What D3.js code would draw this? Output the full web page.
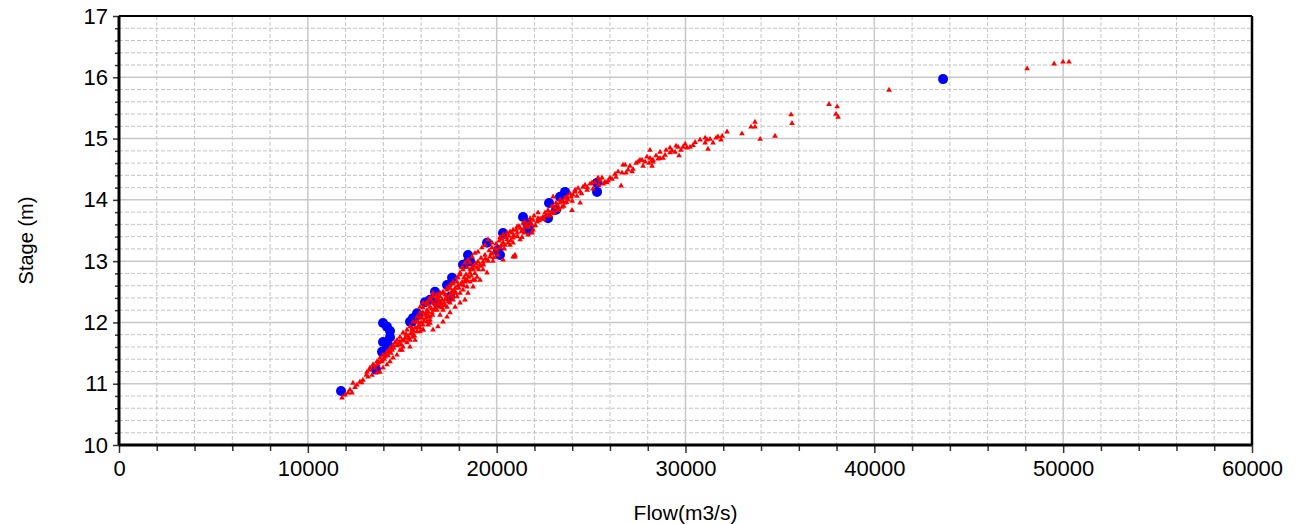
<!DOCTYPE html>
<html>
<head>
<meta charset="utf-8">
<script src="https://cdn.jsdelivr.net/npm/d3@7"></script>
<style>
  html, body { margin: 0; padding: 0; background: #ffffff; }
  svg { display: block; font-family: Arial, "Liberation Sans", sans-serif; }
</style>
</head>
<body>
<div id="chart"></div>
<script>
// Axis ticks
const flowMajorTicks = [0, 10000, 20000, 30000, 40000, 50000, 60000];
const stageMajorTicks = [10, 11, 12, 13, 14, 15, 16, 17];

// Gauged measurements (blue dots): [flow m3/s, stage m]
const gaugedPoints = [
    [11757, 10.88], [13981, 11.99], [14193, 11.93], [14352, 11.86], [14352, 11.76],
    [13981, 11.68], [14246, 11.63], [13928, 11.52], [13611, 11.23], [15517, 12.01],
    [15782, 12.15], [16206, 12.33], [16471, 12.37], [16841, 12.32], [17371, 12.61],
    [17530, 12.42], [17636, 12.73], [18483, 13.10], [18589, 13.00], [19489, 13.30],
    [20072, 13.18], [20178, 13.10], [20337, 13.46], [21396, 13.72], [21608, 13.62],
    [21714, 13.51], [22720, 13.70], [22773, 13.95], [23144, 13.84], [23355, 14.05],
    [23620, 14.13], [25315, 14.28], [25315, 14.13], [43639, 15.97], [15411, 12.01],
    [15570, 12.07], [15835, 12.12], [16735, 12.50], [18218, 12.94], [18483, 12.99]
];

// Simulated stage-flow pairs (red triangles): [flow m3/s, stage m]
const simulatedPoints = [
    [49520, 16.22], [49990, 16.25], [50310, 16.25], [48090, 16.14], [40780, 15.79],
    [37600, 15.56], [38030, 15.52], [37970, 15.40], [38080, 15.35], [35590, 15.39],
    [35640, 15.25], [33680, 15.27], [33470, 15.19], [33680, 15.19], [32200, 15.11],
    [32990, 15.08], [34740, 15.04], [33950, 14.99], [31940, 15.04], [31720, 15.03],
    [31620, 15.01], [31880, 14.98], [31040, 15.01], [31140, 14.98], [31040, 14.93],
    [31190, 14.83], [31460, 14.93], [30400, 14.89], [30240, 14.86], [30080, 14.85],
    [29870, 14.86], [29610, 14.86], [29660, 14.72], [29760, 14.81], [29290, 14.80],
    [29180, 14.77], [29450, 14.78], [28920, 14.73], [28650, 14.68], [28280, 14.65],
    [28120, 14.81], [28120, 14.68], [28230, 14.65], [28070, 14.60], [28280, 14.62],
    [27860, 14.62], [28230, 14.55], [27750, 14.55], [27590, 14.65], [27380, 14.60],
    [27220, 14.50], [27170, 14.46], [26850, 14.44], [26640, 14.44], [26690, 14.57],
    [26800, 14.57], [26320, 14.37], [26110, 14.34], [25900, 14.31], [25740, 14.29],
    [25580, 14.36], [25470, 14.32], [26590, 14.23], [28550, 14.67], [28810, 14.68],
    [25840, 14.28], [25050, 14.28], [24790, 14.16], [24570, 14.21], [24420, 14.13],
    [24150, 14.13], [24040, 14.08], [23940, 14.05], [23730, 14.05], [23780, 14.00],
    [23510, 13.97], [23620, 13.95], [23460, 13.88], [23990, 13.83], [23360, 13.95],
    [23200, 13.92], [23090, 13.87], [23250, 13.83], [22990, 13.80], [22830, 13.79],
    [22670, 13.75], [22460, 13.72], [22400, 13.70], [22300, 13.69], [22190, 13.79],
    [22140, 13.64], [21930, 13.67], [21770, 13.64], [21610, 13.59], [21500, 13.56],
    [21400, 13.51], [21240, 13.54], [21080, 13.56], [20870, 13.51], [20710, 13.48],
    [20550, 13.46], [20340, 13.43], [20180, 13.39], [21240, 13.35], [20870, 13.30],
    [20970, 13.07], [20550, 13.35], [20440, 13.26], [24420, 13.95], [22990, 14.05],
    [21930, 13.51], [21870, 13.46], [21660, 13.43], [21400, 13.62], [21610, 13.56],
    [21080, 13.46], [21340, 13.39], [20870, 13.38], [20340, 13.30], [20710, 13.26],
    [20180, 13.22], [20970, 13.10], [20020, 13.18], [19810, 13.13], [19650, 13.07],
    [19490, 13.02], [19280, 12.99], [19120, 12.94], [18960, 12.89], [18750, 12.86],
    [18590, 12.81], [19750, 13.30], [19540, 13.35], [19380, 13.26], [19220, 13.22],
    [19010, 13.15], [18850, 13.13], [18700, 13.07], [18480, 13.02], [18320, 12.97],
    [18170, 12.90], [18060, 12.81], [17950, 12.73], [17900, 12.66], [17690, 12.63],
    [17530, 12.56], [17370, 12.53], [17160, 12.48], [17000, 12.42], [16840, 12.37],
    [16630, 12.32], [16470, 12.25], [16310, 12.20], [16100, 12.16], [15940, 12.09],
    [18960, 12.74], [18750, 12.69], [18590, 12.66], [18430, 12.58], [18220, 12.53],
    [18060, 12.48], [17900, 12.42], [17690, 12.37], [17530, 12.32], [17370, 12.25],
    [17160, 12.20], [17000, 12.12], [19490, 12.81], [19280, 12.86], [19120, 12.69],
    [18320, 12.66], [17690, 12.48], [17270, 12.37], [17000, 12.25], [16470, 12.04],
    [16580, 12.16], [20870, 13.07], [20340, 13.02], [16630, 12.48], [16840, 12.40],
    [16470, 12.37], [16310, 12.29], [16100, 12.24], [15940, 12.16], [15780, 12.09],
    [15570, 12.01], [15410, 11.93], [15250, 11.88], [15040, 11.83], [14880, 11.76],
    [14720, 11.71], [14510, 11.63], [14350, 11.58], [14190, 11.52], [13980, 11.47],
    [13820, 11.42], [13660, 11.36], [13450, 11.31], [13290, 11.26], [13130, 11.19],
    [16840, 12.20], [16470, 12.09], [16310, 12.01], [16100, 11.96], [15940, 11.91],
    [15780, 11.85], [15570, 11.80], [15410, 11.71], [15250, 11.67], [15040, 11.60],
    [14880, 11.55], [14720, 11.47], [14510, 11.42], [14350, 11.36], [14190, 11.31],
    [13980, 11.26], [13820, 11.19], [13660, 11.18], [16470, 11.99], [16100, 11.88],
    [15680, 11.71], [15410, 11.60], [14990, 11.55], [13400, 11.14], [13190, 11.11],
    [12920, 11.06], [12760, 11.03], [12600, 10.98], [12390, 11.01], [12230, 10.90],
    [12130, 10.85], [12340, 10.85], [11970, 10.82], [11810, 10.77], [18590, 12.97],
    [18430, 12.90], [18220, 12.86], [18060, 12.78], [17900, 12.73], [17690, 12.66],
    [17530, 12.61], [17370, 12.56], [17160, 12.50], [17000, 12.48], [16840, 12.45],
    [16630, 12.42], [16470, 12.40], [16310, 12.33], [16100, 12.32], [15940, 12.25],
    [18850, 12.69], [18750, 12.58], [18480, 12.48], [18320, 12.37], [18060, 12.32],
    [17800, 12.25], [17530, 12.16], [17370, 12.09], [17160, 12.01], [16890, 11.93],
    [16630, 11.88], [16370, 11.96], [16100, 11.88], [15940, 11.85], [14620, 11.67],
    [14780, 11.63], [15150, 11.75], [15310, 11.78], [15520, 11.88], [15680, 11.91],
    [15840, 12.01], [16210, 12.12], [16370, 12.17], [16740, 12.29], [17110, 12.37],
    [17270, 12.45], [13930, 11.39], [14090, 11.44], [14300, 11.52], [14460, 11.55],
    [13720, 11.31], [13560, 11.26], [13930, 11.36], [14990, 11.71], [15200, 11.81],
    [15520, 11.91], [15730, 12.01], [16050, 12.07], [16260, 12.07], [16680, 12.20],
    [16890, 12.29], [17210, 12.32], [17420, 12.40], [17640, 12.51], [17800, 12.56],
    [17950, 12.60], [18170, 12.66], [18270, 12.73], [18380, 12.78], [18590, 12.86],
    [18800, 12.92], [19010, 12.99], [19170, 13.05], [19380, 13.10], [19600, 13.17],
    [19750, 13.22], [19970, 13.28], [20130, 13.33], [20280, 13.36], [20500, 13.39],
    [20650, 13.41], [20810, 13.46], [21030, 13.51], [21180, 13.57], [21500, 13.64],
    [21770, 13.70], [21980, 13.74], [22190, 13.70], [22560, 13.79], [22720, 13.83],
    [22930, 13.90], [23140, 13.95], [23360, 14.00], [23620, 14.03], [23890, 14.10],
    [24150, 14.16], [24310, 14.19], [24680, 14.24], [24940, 14.26], [25210, 14.28],
    [25370, 14.36], [26000, 14.36], [26270, 14.42], [26430, 14.46], [26960, 14.49],
    [27060, 14.55], [27490, 14.62], [27700, 14.65], [27960, 14.70], [28440, 14.72],
    [28650, 14.78], [28970, 14.81], [29180, 14.85], [29500, 14.88], [29980, 14.91],
    [30510, 14.94], [30770, 14.98], [31300, 14.99], [13250, 11.22], [13500, 11.30],
    [13750, 11.35], [14050, 11.40], [14150, 11.48], [14400, 11.50], [14550, 11.58],
    [14700, 11.62], [14850, 11.68], [14950, 11.64], [15100, 11.70], [15350, 11.74],
    [15450, 11.82], [15600, 11.86], [15650, 11.78], [15800, 11.92], [15900, 11.96],
    [16000, 12.00], [16150, 12.02], [16250, 12.14], [16400, 12.10], [16550, 12.22],
    [16600, 12.12], [16750, 12.24], [16950, 12.34], [17050, 12.30], [17250, 12.28],
    [17350, 12.42], [17450, 12.34], [17550, 12.46], [17650, 12.42], [17750, 12.52],
    [17850, 12.48], [18000, 12.56], [18100, 12.62], [18250, 12.60], [18350, 12.70],
    [18500, 12.74], [18650, 12.76], [18700, 12.90], [18850, 12.80], [18900, 12.96],
    [19050, 12.86], [19150, 12.92], [19300, 12.94], [19400, 13.04], [19550, 13.00],
    [19700, 13.12], [19850, 13.06], [19950, 13.20], [20050, 13.10], [20250, 13.26],
    [20400, 13.20], [20600, 13.30], [20750, 13.34], [20900, 13.42], [21100, 13.40],
    [21300, 13.48], [21450, 13.46], [21700, 13.55], [21850, 13.60], [22050, 13.58],
    [22250, 13.66], [22500, 13.68], [22600, 13.74], [22850, 13.74], [23050, 13.78],
    [23300, 13.86], [23550, 13.90], [23700, 13.96], [24000, 13.98], [24250, 14.06],
    [24500, 14.10], [24800, 14.20], [25100, 14.18], [25400, 14.24], [25650, 14.26],
    [13100, 11.14], [12850, 11.02], [12500, 10.94], [14250, 11.46], [15550, 11.76],
    [17100, 12.24], [18450, 12.68], [19800, 13.00]
];

const width = 1300;
const height = 524;
const margin = { top: 16, right: 48, bottom: 79, left: 119 };
const innerW = width - margin.left - margin.right;
const innerH = height - margin.top - margin.bottom;

const svg = d3.select('#chart')
    .append('svg')
    .attr('width', width)
    .attr('height', height);

const g = svg.append('g')
    .attr('transform', `translate(${margin.left},${margin.top})`);

const x = d3.scaleLinear().domain([0, 60000]).range([0, innerW]);
const y = d3.scaleLinear().domain([10, 17]).range([innerH, 0]);

const flowMinorTicks = d3.range(0, 60001, 2000).filter(v => v % 10000 !== 0);
const stageMinorTicks = d3.range(100, 171, 2).map(v => v / 10).filter(v => !Number.isInteger(v));

// Minor grid (dashed)
g.append('g')
    .attr('class', 'grid-minor-x')
    .selectAll('line')
    .data(flowMinorTicks)
    .join('line')
    .attr('x1', d => x(d)).attr('x2', d => x(d))
    .attr('y1', 0).attr('y2', innerH)
    .attr('stroke', '#c4c4c4')
    .attr('stroke-dasharray', '4,2');

g.append('g')
    .attr('class', 'grid-minor-y')
    .selectAll('line')
    .data(stageMinorTicks)
    .join('line')
    .attr('x1', 0).attr('x2', innerW)
    .attr('y1', d => y(d)).attr('y2', d => y(d))
    .attr('stroke', '#c4c4c4')
    .attr('stroke-dasharray', '4,2');

// Major grid (solid)
g.append('g')
    .attr('class', 'grid-major-x')
    .selectAll('line')
    .data(flowMajorTicks)
    .join('line')
    .attr('x1', d => x(d)).attr('x2', d => x(d))
    .attr('y1', 0).attr('y2', innerH)
    .attr('stroke', '#c8c8c8')
    .attr('stroke-width', 1.5);

g.append('g')
    .attr('class', 'grid-major-y')
    .selectAll('line')
    .data(stageMajorTicks)
    .join('line')
    .attr('x1', 0).attr('x2', innerW)
    .attr('y1', d => y(d)).attr('y2', d => y(d))
    .attr('stroke', '#c8c8c8')
    .attr('stroke-width', 1.5);

// Points
g.append('g')
    .selectAll('circle')
    .data(gaugedPoints)
    .join('circle')
    .attr('cx', d => x(d[0]))
    .attr('cy', d => y(d[1]))
    .attr('r', 5)
    .attr('fill', '#0000ff');

const tri = d3.symbol().type(d3.symbolTriangle).size(14);
g.append('g')
    .selectAll('path')
    .data(simulatedPoints)
    .join('path')
    .attr('transform', d => `translate(${x(d[0])},${y(d[1])})`)
    .attr('d', tri)
    .attr('fill', '#ff0000');

// Axes
const xAxisMinor = d3.axisBottom(x).tickValues(flowMinorTicks).tickSize(6).tickFormat('');
const xAxis = d3.axisBottom(x).tickValues(flowMajorTicks).tickSize(8).tickPadding(7).tickFormat(d3.format('d'));
const yAxisMinor = d3.axisLeft(y).tickValues(stageMinorTicks).tickSize(4).tickFormat('');
const yAxis = d3.axisLeft(y).tickValues(stageMajorTicks).tickSize(6).tickPadding(5).tickFormat(d3.format('d'));

function styleAxis(sel) {
    sel.select('.domain').remove();
    sel.selectAll('.tick line').attr('stroke', '#333').attr('stroke-width', 1.5);
    sel.selectAll('.tick text')
        .attr('fill', '#000')
        .style('font-size', '22px')
        .style('font-family', 'Arial, "Liberation Sans", sans-serif');
}

g.append('g').attr('transform', `translate(0,${innerH})`).call(xAxisMinor).call(styleAxis);
g.append('g').attr('transform', `translate(0,${innerH})`).call(xAxis).call(styleAxis);
g.append('g').call(yAxisMinor).call(styleAxis);
g.append('g').call(yAxis).call(styleAxis);

// Frame
g.append('line').attr('x1', 0).attr('x2', innerW).attr('y1', 0).attr('y2', 0)
    .attr('stroke', '#000').attr('stroke-width', 2);
g.append('line').attr('x1', innerW).attr('x2', innerW).attr('y1', 0).attr('y2', innerH)
    .attr('stroke', '#000').attr('stroke-width', 2.5);
g.append('line').attr('x1', 0).attr('x2', innerW).attr('y1', innerH).attr('y2', innerH)
    .attr('stroke', '#000').attr('stroke-width', 3);
g.append('line').attr('x1', 0).attr('x2', 0).attr('y1', 0).attr('y2', innerH)
    .attr('stroke', '#000').attr('stroke-width', 3);

// Axis titles
svg.append('text')
    .attr('x', margin.left + innerW / 2)
    .attr('y', 520)
    .attr('text-anchor', 'middle')
    .style('font-size', '21px')
    .text('Flow(m3/s)');

svg.append('text')
    .attr('transform', `translate(33,${margin.top + innerH / 2 + 10}) rotate(-90)`)
    .attr('text-anchor', 'middle')
    .style('font-size', '20px')
    .text('Stage (m)');
</script>
</body>
</html>
